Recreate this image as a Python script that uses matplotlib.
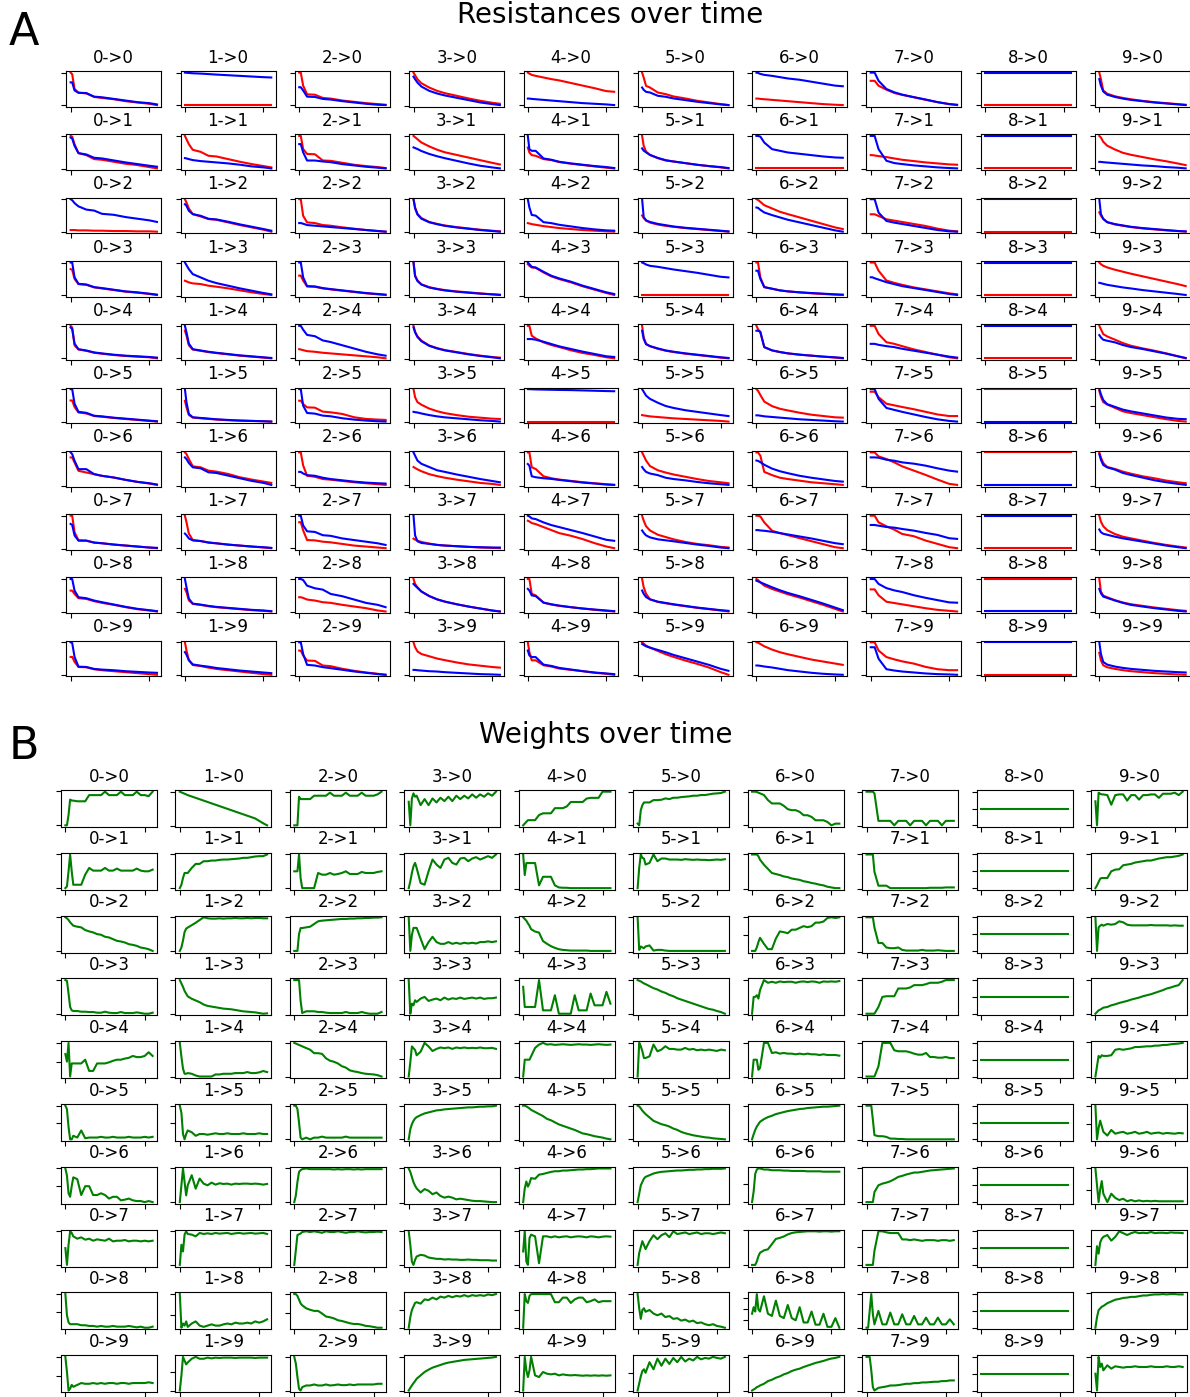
import matplotlib.pyplot as plt

# --- sample points along time ---
t_res = [0, 2, 5, 10, 20, 30, 40, 55, 70, 85, 100, 110]
t_w = [0, 2, 4, 6, 8, 10, 15, 20, 25, 30, 35, 40, 45, 50, 55, 60, 65, 70, 75, 80, 85, 90, 95, 100, 105, 110]

# --- resistances: red_i[j] / blue_i[j] is connection i->j ---
red_0 = [
    [100, 95, 50, 38, 36, 25, 22, 18, 12, 8, 4, 0],
    [100, 98, 75, 48, 42, 30, 28, 22, 16, 12, 6, 2],
    [5, 5, 5, 4, 4, 3, 3, 2, 2, 1, 1, 0],
    [80, 78, 50, 34, 32, 24, 21, 16, 11, 8, 4, 1],
    [100, 95, 40, 27, 23, 17, 14, 10, 7, 5, 3, 0],
    [65, 65, 45, 28, 25, 17, 15, 11, 8, 5, 2, 0],
    [85, 85, 70, 45, 40, 35, 30, 25, 18, 12, 7, 3],
    [100, 100, 50, 25, 24, 18, 16, 12, 9, 6, 3, 1],
    [65, 65, 55, 42, 40, 33, 28, 22, 15, 9, 5, 2],
    [55, 55, 40, 24, 23, 17, 14, 11, 8, 5, 2, 0],
]
blue_0 = [
    [70, 70, 45, 38, 37, 26, 24, 19, 14, 9, 6, 2],
    [95, 92, 70, 48, 44, 34, 32, 26, 20, 15, 10, 7],
    [100, 97, 88, 78, 68, 65, 55, 52, 45, 40, 35, 30],
    [100, 100, 55, 35, 33, 25, 22, 17, 12, 9, 5, 2],
    [95, 90, 45, 28, 24, 18, 15, 11, 8, 6, 4, 2],
    [100, 100, 55, 30, 27, 18, 16, 12, 9, 6, 3, 1],
    [100, 95, 75, 50, 50, 35, 30, 25, 18, 12, 8, 4],
    [75, 72, 40, 24, 24, 18, 16, 12, 9, 6, 3, 2],
    [100, 100, 65, 45, 42, 35, 30, 23, 16, 10, 6, 3],
    [100, 98, 55, 25, 24, 18, 16, 14, 11, 9, 7, 6],
]
red_1 = [
    [0, 0, 0, 0, 0, 0, 0, 0, 0, 0, 0, 0],
    [100, 90, 75, 58, 52, 40, 38, 30, 22, 15, 9, 5],
    [100, 90, 72, 55, 48, 40, 38, 30, 22, 15, 8, 2],
    [45, 43, 40, 37, 35, 30, 27, 22, 16, 10, 5, 2],
    [85, 70, 40, 27, 23, 19, 16, 12, 8, 5, 2, 0],
    [65, 45, 22, 14, 12, 10, 8, 6, 5, 4, 3, 2],
    [100, 95, 80, 58, 55, 45, 42, 35, 25, 18, 12, 8],
    [100, 80, 45, 25, 22, 18, 15, 11, 8, 5, 2, 0],
    [70, 60, 35, 24, 21, 17, 14, 11, 8, 5, 3, 1],
    [100, 75, 45, 30, 27, 22, 18, 14, 10, 6, 2, 0],
]
blue_1 = [
    [100, 99.5, 99, 98, 97, 95.5, 94, 92, 90, 88, 86, 85],
    [33, 32, 30, 27, 24, 22, 20, 17, 13, 8, 5, 2],
    [85, 80, 65, 55, 50, 41, 39, 32, 24, 17, 10, 5],
    [100, 92, 80, 65, 55, 45, 38, 30, 22, 15, 8, 4],
    [100, 80, 45, 28, 24, 20, 17, 13, 9, 6, 3, 1],
    [100, 60, 25, 15, 13, 11, 9, 7, 5, 4, 3, 2],
    [85, 80, 68, 55, 52, 40, 38, 30, 22, 14, 8, 2],
    [45, 40, 30, 24, 22, 17, 15, 11, 8, 5, 3, 1],
    [100, 75, 40, 25, 22, 18, 15, 12, 9, 6, 4, 2],
    [70, 62, 45, 32, 28, 25, 21, 17, 13, 10, 7, 5],
]
red_2 = [
    [100, 100, 60, 33, 32, 22, 20, 14, 10, 6, 3, 1],
    [100, 100, 60, 45, 44, 25, 24, 18, 12, 8, 5, 2],
    [100, 100, 50, 30, 28, 22, 20, 15, 11, 7, 4, 2],
    [60, 60, 45, 27, 26, 21, 18, 14, 10, 6, 3, 1],
    [28, 27, 25, 22, 20, 17, 15, 12, 9, 6, 3, 0],
    [65, 65, 55, 45, 44, 32, 30, 25, 15, 10, 8, 7],
    [100, 100, 60, 28, 25, 18, 16, 12, 8, 5, 2, 0],
    [80, 80, 55, 25, 24, 20, 18, 13, 8, 5, 2, 0],
    [45, 45, 43, 38, 35, 30, 28, 22, 17, 12, 5, 2],
    [75, 75, 60, 45, 44, 30, 28, 20, 14, 9, 5, 2],
]
blue_2 = [
    [55, 55, 45, 26, 25, 19, 17, 12, 8, 4, 1, 0],
    [75, 75, 50, 25, 25, 22, 20, 14, 10, 6, 3, 1],
    [28, 28, 26, 22, 20, 18, 16, 13, 10, 7, 4, 2],
    [100, 100, 55, 28, 27, 22, 19, 15, 11, 7, 4, 2],
    [100, 100, 88, 72, 68, 55, 50, 40, 30, 20, 12, 8],
    [100, 100, 50, 28, 26, 20, 18, 12, 8, 5, 3, 2],
    [40, 40, 35, 30, 28, 22, 18, 14, 10, 7, 5, 4],
    [100, 100, 70, 52, 50, 40, 38, 30, 25, 20, 15, 10],
    [100, 100, 97, 80, 72, 68, 55, 48, 38, 28, 22, 15],
    [100, 100, 65, 32, 30, 25, 22, 17, 12, 8, 4, 2],
]
red_3 = [
    [100, 92, 80, 68, 55, 45, 38, 30, 22, 15, 9, 6],
    [100, 96, 90, 80, 68, 58, 50, 42, 34, 26, 18, 13],
    [100, 75, 55, 42, 30, 24, 19, 14, 10, 6, 3, 1],
    [100, 60, 45, 33, 24, 19, 15, 11, 8, 5, 2, 1],
    [100, 82, 68, 55, 40, 32, 26, 20, 14, 9, 5, 3],
    [100, 75, 60, 52, 40, 32, 26, 20, 15, 12, 9, 8],
    [55, 52, 48, 42, 33, 27, 22, 16, 11, 6, 3, 0],
    [30, 27, 24, 20, 15, 11, 9, 7, 5, 3, 2, 1],
    [100, 85, 75, 62, 48, 38, 31, 23, 16, 10, 4, 1],
    [100, 85, 72, 64, 57, 50, 45, 38, 32, 28, 24, 22],
]
blue_3 = [
    [88, 80, 70, 58, 45, 37, 31, 24, 17, 10, 5, 2],
    [65, 63, 60, 54, 45, 38, 32, 24, 16, 9, 4, 1],
    [100, 72, 53, 40, 29, 23, 18, 13, 9, 5, 2, 0],
    [100, 58, 43, 32, 23, 18, 14, 10, 7, 4, 2, 0],
    [95, 80, 66, 53, 39, 31, 25, 19, 13, 8, 4, 1],
    [30, 29, 28, 25, 20, 16, 13, 10, 7, 4, 2, 0],
    [100, 90, 75, 65, 55, 45, 40, 32, 25, 18, 12, 8],
    [100, 40, 22, 17, 14, 11, 9, 7, 5, 4, 3, 3],
    [85, 80, 73, 62, 48, 38, 31, 23, 16, 10, 4, 1],
    [15, 15, 14, 13, 11, 10, 8, 6, 4, 2, 1, 0],
]
red_4 = [
    [100, 97, 93, 90, 85, 80, 76, 68, 60, 52, 43, 41],
    [65, 50, 42, 40, 30, 27, 21, 16, 12, 8, 4, 2],
    [27, 26, 24, 22, 18, 15, 12, 9, 6, 4, 2, 1],
    [95, 90, 85, 84, 70, 58, 50, 40, 28, 18, 8, 2],
    [100, 100, 70, 62, 50, 42, 36, 26, 18, 12, 5, 2],
    [0, 0, 0, 0, 0, 0, 0, 0, 0, 0, 0, 0],
    [100, 100, 55, 50, 28, 22, 18, 14, 10, 7, 4, 2],
    [85, 83, 78, 75, 66, 57, 48, 40, 30, 18, 8, 3],
    [100, 100, 55, 50, 28, 22, 18, 14, 10, 6, 3, 1],
    [100, 70, 45, 45, 30, 26, 20, 16, 12, 7, 4, 1],
]
blue_4 = [
    [20, 20, 19, 18, 16, 14, 12, 9, 6, 4, 2, 0],
    [100, 60, 55, 55, 32, 28, 22, 17, 13, 9, 6, 3],
    [100, 75, 52, 50, 30, 27, 22, 17, 12, 8, 5, 4],
    [100, 95, 87, 85, 72, 60, 52, 42, 30, 20, 10, 5],
    [60, 60, 60, 58, 52, 45, 38, 30, 22, 15, 8, 6],
    [100, 99.8, 99.5, 99, 98.5, 98, 97.5, 97, 96, 95, 94, 93.5],
    [65, 60, 28, 25, 22, 20, 17, 13, 9, 6, 3, 2],
    [100, 98, 92, 90, 80, 72, 66, 57, 48, 38, 28, 25],
    [70, 65, 50, 48, 28, 23, 19, 14, 10, 7, 4, 2],
    [75, 60, 55, 55, 32, 28, 22, 17, 12, 8, 5, 3],
]
red_5 = [
    [100, 85, 60, 55, 40, 35, 28, 22, 15, 10, 5, 2],
    [100, 70, 52, 42, 32, 25, 22, 17, 12, 8, 4, 1],
    [50, 42, 34, 28, 22, 18, 15, 11, 8, 5, 2, 0],
    [2, 2, 2, 2, 2, 2, 2, 2, 2, 2, 2, 2],
    [100, 65, 45, 38, 30, 24, 20, 15, 11, 7, 3, 1],
    [20, 19, 18, 16, 14, 12, 10, 8, 6, 4, 2, 0],
    [100, 90, 75, 58, 45, 38, 32, 25, 18, 12, 8, 5],
    [100, 85, 68, 55, 42, 35, 28, 20, 14, 10, 5, 3],
    [100, 75, 55, 38, 30, 26, 22, 17, 12, 8, 4, 1],
    [100, 96, 90, 84, 74, 64, 56, 45, 35, 24, 10, 2],
]
blue_5 = [
    [55, 48, 42, 40, 30, 27, 22, 17, 12, 8, 4, 2],
    [62, 55, 50, 42, 33, 26, 22, 17, 12, 8, 5, 2],
    [100, 45, 35, 30, 24, 20, 16, 12, 9, 6, 3, 1],
    [100, 98, 94, 90, 87, 83, 79, 74, 69, 63, 57, 55],
    [85, 60, 44, 38, 31, 25, 21, 16, 12, 8, 4, 2],
    [100, 92, 80, 70, 58, 48, 42, 35, 30, 25, 20, 17],
    [55, 48, 40, 35, 30, 22, 18, 14, 9, 5, 2, 0],
    [55, 48, 40, 34, 28, 25, 22, 17, 12, 8, 3, 1],
    [65, 55, 45, 38, 31, 27, 23, 18, 13, 9, 5, 3],
    [95, 92, 88, 84, 77, 70, 62, 52, 42, 32, 20, 14],
]
red_6 = [
    [20, 20, 19, 18, 16, 14, 12, 9, 6, 3, 1, 0],
    [2, 2, 2, 2, 2, 2, 2, 2, 2, 2, 2, 2],
    [100, 98, 92, 82, 72, 62, 55, 45, 35, 25, 15, 10],
    [100, 100, 55, 25, 20, 15, 12, 9, 6, 4, 2, 1],
    [100, 90, 80, 35, 25, 20, 16, 12, 9, 6, 3, 1],
    [100, 95, 82, 62, 48, 40, 35, 28, 22, 18, 14, 13],
    [100, 100, 90, 40, 30, 22, 18, 13, 8, 5, 2, 0],
    [100, 100, 98, 80, 55, 48, 42, 33, 24, 15, 6, 3],
    [100, 97, 90, 80, 70, 62, 54, 44, 33, 22, 10, 2],
    [100, 99, 95, 88, 78, 70, 64, 56, 48, 42, 36, 32],
]
blue_6 = [
    [100, 99, 96, 93, 90, 86, 82, 78, 72, 66, 60, 58],
    [100, 100, 98, 80, 60, 55, 50, 46, 42, 38, 35, 34],
    [75, 74, 68, 60, 52, 45, 38, 30, 22, 14, 6, 2],
    [75, 75, 50, 25, 20, 15, 12, 9, 7, 5, 3, 2],
    [85, 85, 82, 35, 25, 20, 16, 12, 9, 6, 4, 2],
    [20, 20, 19, 17, 15, 13, 11, 8, 6, 4, 2, 1],
    [75, 74, 70, 62, 50, 42, 36, 28, 22, 17, 12, 10],
    [57, 57, 56, 55, 52, 48, 44, 38, 32, 25, 18, 15],
    [95, 93, 90, 85, 75, 66, 58, 48, 37, 26, 14, 6],
    [30, 30, 29, 27, 24, 20, 16, 12, 8, 5, 3, 2],
]
red_7 = [
    [75, 75, 75, 60, 48, 38, 32, 25, 17, 10, 4, 1],
    [42, 42, 41, 39, 36, 32, 28, 24, 20, 17, 14, 13],
    [55, 55, 55, 50, 40, 36, 32, 26, 20, 12, 6, 4],
    [100, 100, 100, 75, 45, 38, 32, 24, 18, 12, 6, 3],
    [100, 100, 100, 75, 50, 45, 38, 28, 20, 12, 4, 1],
    [92, 92, 92, 75, 55, 50, 45, 38, 30, 22, 17, 17],
    [100, 100, 100, 88, 80, 70, 58, 45, 32, 18, 5, 2],
    [100, 100, 100, 80, 68, 58, 45, 38, 25, 15, 5, 2],
    [68, 68, 68, 50, 30, 26, 22, 16, 10, 5, 2, 0],
    [100, 100, 100, 75, 55, 48, 42, 35, 25, 18, 15, 15],
]
blue_7 = [
    [100, 100, 100, 75, 50, 40, 33, 25, 18, 10, 4, 2],
    [100, 100, 100, 60, 25, 18, 15, 11, 8, 5, 3, 2],
    [100, 100, 100, 60, 35, 30, 26, 20, 14, 8, 4, 3],
    [55, 55, 52, 48, 40, 34, 28, 22, 16, 10, 4, 1],
    [45, 45, 45, 42, 38, 35, 30, 24, 18, 12, 6, 3],
    [100, 100, 100, 70, 42, 36, 30, 22, 14, 7, 2, 0],
    [85, 85, 85, 84, 78, 75, 70, 66, 60, 52, 45, 42],
    [72, 72, 72, 70, 66, 64, 60, 55, 48, 42, 32, 30],
    [100, 100, 100, 85, 72, 65, 60, 50, 42, 35, 28, 27],
    [85, 85, 85, 50, 18, 14, 11, 8, 5, 3, 2, 1],
]
# 8->j stays flat: level of each line per target
red_8_level = [0, 0, 0, 0, 0, 100, 100, 0, 100, 0]
blue_8_level = [100, 100, 100, 100, 100, 0, 0, 100, 0, 100]
red_8 = [[v] * len(t_res) for v in red_8_level]
blue_8 = [[v] * len(t_res) for v in blue_8_level]
red_9 = [
    [100, 80, 45, 35, 27, 22, 18, 13, 9, 6, 3, 1],
    [100, 95, 82, 70, 58, 48, 42, 35, 28, 22, 15, 10],
    [60, 50, 40, 30, 23, 19, 15, 11, 8, 5, 3, 1],
    [100, 95, 90, 85, 78, 72, 66, 58, 50, 42, 34, 28],
    [100, 90, 75, 68, 58, 48, 40, 32, 25, 17, 8, 2],
    [95, 78, 62, 55, 45, 35, 30, 24, 18, 12, 7, 5],
    [100, 85, 68, 56, 50, 42, 36, 28, 22, 15, 10, 7],
    [100, 82, 68, 56, 44, 36, 31, 24, 17, 11, 6, 3],
    [100, 62, 50, 45, 36, 29, 24, 19, 14, 10, 6, 4],
    [68, 45, 30, 24, 19, 15, 12, 9, 6, 4, 2, 1],
]
blue_9 = [
    [80, 60, 42, 32, 25, 20, 16, 12, 8, 5, 2, 0],
    [20, 20, 19, 18, 16, 14, 12, 9, 7, 4, 2, 0],
    [100, 55, 40, 30, 24, 20, 16, 12, 9, 6, 3, 2],
    [38, 37, 35, 32, 28, 24, 21, 16, 12, 8, 4, 1],
    [72, 65, 58, 55, 50, 42, 36, 30, 23, 16, 8, 3],
    [100, 85, 68, 56, 48, 40, 35, 29, 23, 17, 13, 12],
    [95, 78, 62, 55, 48, 38, 32, 24, 16, 10, 5, 2],
    [58, 50, 45, 42, 36, 31, 27, 21, 15, 9, 4, 1],
    [70, 57, 47, 43, 35, 28, 22, 17, 12, 8, 4, 2],
    [100, 65, 40, 32, 26, 22, 19, 16, 13, 11, 9, 8],
]

# --- weights: w_i[j] is connection i->j ---
w_0 = [
    [0, 0, 30, 75, 72, 72, 70, 70, 70, 88, 88, 88, 88, 98, 88, 88, 88, 98, 88, 88, 88, 98, 88, 88, 85, 98],
    [0, 5, 50, 100, 50, 10, 10, 10, 40, 60, 52, 52, 52, 60, 52, 52, 58, 52, 52, 52, 52, 58, 52, 50, 50, 55],
    [100, 97, 92, 85, 80, 75, 72, 70, 62, 58, 55, 50, 48, 42, 40, 35, 30, 28, 25, 20, 18, 15, 10, 8, 5, 0],
    [100, 98, 60, 20, 10, 8, 8, 6, 6, 5, 5, 3, 3, 6, 3, 2, 2, 5, 2, 2, 2, 4, 2, 0, 0, 3],
    [70, 50, 100, 10, 45, 45, 45, 45, 55, 25, 25, 45, 45, 45, 48, 52, 55, 55, 58, 60, 65, 62, 62, 65, 75, 65],
    [100, 90, 40, 5, 5, 15, 10, 30, 8, 10, 10, 10, 12, 10, 10, 12, 10, 10, 10, 12, 10, 10, 10, 12, 10, 12],
    [100, 80, 30, 20, 50, 75, 70, 25, 50, 50, 25, 25, 30, 25, 15, 20, 20, 10, 12, 15, 10, 8, 8, 5, 8, 5],
    [50, 0, 60, 100, 95, 85, 78, 82, 75, 78, 72, 76, 74, 72, 78, 70, 72, 72, 74, 70, 72, 72, 70, 72, 70, 72],
    [100, 40, 20, 15, 15, 15, 15, 12, 12, 10, 10, 8, 10, 8, 8, 10, 8, 8, 8, 10, 8, 6, 8, 5, 5, 8],
    [100, 60, 10, 15, 25, 20, 25, 30, 28, 28, 30, 28, 30, 28, 30, 30, 28, 30, 30, 28, 30, 30, 30, 30, 32, 30],
]
w_1 = [
    [100, 98, 96, 94, 92, 90, 86, 82, 78, 74, 70, 66, 62, 58, 54, 50, 46, 42, 38, 34, 30, 26, 22, 15, 8, 2],
    [0, 10, 30, 45, 45, 45, 60, 72, 72, 80, 80, 82, 82, 84, 85, 85, 86, 87, 88, 90, 90, 92, 94, 95, 95, 100],
    [0, 10, 30, 55, 65, 68, 75, 82, 90, 98, 95, 94, 94, 95, 94, 95, 95, 96, 95, 95, 96, 95, 96, 96, 95, 95],
    [100, 90, 80, 68, 60, 52, 45, 40, 35, 28, 24, 22, 20, 18, 16, 15, 14, 12, 10, 8, 7, 6, 5, 3, 1, 2],
    [100, 60, 25, 10, 10, 12, 10, 5, 2, 2, 2, 2, 8, 8, 10, 10, 10, 12, 12, 12, 15, 12, 12, 14, 18, 15],
    [100, 80, 20, 5, 20, 30, 25, 15, 20, 20, 18, 20, 22, 20, 20, 22, 20, 20, 20, 22, 20, 20, 20, 22, 20, 20],
    [0, 50, 100, 60, 20, 50, 80, 40, 70, 55, 50, 58, 52, 56, 54, 55, 52, 55, 54, 55, 55, 54, 55, 54, 52, 54],
    [0, 60, 40, 90, 100, 92, 90, 85, 95, 92, 94, 92, 95, 93, 94, 95, 92, 94, 95, 93, 94, 95, 93, 94, 95, 92],
    [100, 20, 30, 25, 35, 22, 30, 35, 25, 22, 25, 28, 25, 25, 28, 30, 28, 32, 30, 30, 32, 30, 35, 32, 35, 40],
    [0, 40, 90, 80, 70, 75, 85, 90, 85, 85, 88, 86, 88, 87, 88, 88, 88, 87, 88, 88, 88, 88, 87, 88, 88, 88],
]
w_2 = [
    [0, 0, 0, 85, 78, 78, 78, 78, 88, 88, 88, 88, 97, 88, 88, 88, 97, 88, 88, 88, 97, 88, 88, 88, 92, 100],
    [50, 50, 50, 100, 30, 0, 0, 0, 0, 45, 40, 40, 45, 40, 42, 45, 50, 42, 42, 42, 48, 45, 45, 45, 48, 50],
    [0, 0, 0, 50, 68, 68, 70, 72, 80, 88, 90, 91, 92, 93, 94, 95, 95, 96, 96, 97, 97, 98, 98, 99, 99, 100],
    [100, 100, 100, 100, 40, 5, 10, 10, 10, 8, 8, 6, 5, 5, 5, 5, 8, 5, 5, 5, 8, 5, 3, 3, 3, 8],
    [100, 98, 96, 94, 92, 90, 85, 80, 70, 70, 68, 55, 48, 45, 40, 32, 28, 20, 17, 15, 12, 10, 9, 8, 6, 2],
    [100, 100, 90, 50, 5, 0, 5, 0, 5, 5, 8, 5, 5, 5, 5, 5, 8, 5, 5, 5, 5, 5, 5, 5, 5, 5],
    [0, 20, 60, 90, 95, 98, 100, 98, 98, 98, 98, 98, 98, 97, 98, 97, 98, 98, 97, 98, 97, 98, 98, 98, 98, 98],
    [0, 40, 80, 82, 84, 88, 90, 88, 90, 88, 86, 90, 88, 88, 90, 88, 86, 88, 88, 90, 88, 87, 88, 88, 89, 88],
    [100, 100, 95, 85, 75, 70, 62, 58, 55, 55, 48, 40, 38, 35, 30, 28, 25, 22, 20, 20, 18, 15, 14, 12, 10, 10],
    [100, 80, 40, 5, 0, 10, 15, 15, 18, 15, 15, 18, 15, 16, 18, 16, 16, 18, 16, 18, 18, 18, 18, 18, 20, 20],
]
w_3 = [
    [70, 0, 80, 95, 85, 88, 60, 78, 60, 80, 68, 82, 72, 85, 72, 88, 78, 88, 80, 92, 82, 92, 85, 95, 88, 100],
    [0, 20, 45, 65, 75, 60, 15, 10, 50, 85, 70, 60, 85, 90, 75, 70, 88, 90, 80, 88, 92, 85, 90, 95, 90, 100],
    [100, 5, 50, 70, 70, 70, 40, 10, 30, 45, 30, 25, 25, 30, 25, 28, 25, 28, 26, 28, 26, 30, 30, 32, 30, 32],
    [100, 0, 30, 25, 40, 35, 45, 50, 38, 42, 45, 40, 48, 42, 46, 44, 48, 44, 46, 48, 45, 48, 44, 46, 46, 48],
    [0, 40, 85, 80, 75, 60, 70, 95, 85, 72, 78, 82, 80, 82, 78, 82, 80, 82, 80, 81, 80, 82, 80, 80, 81, 78],
    [0, 30, 45, 55, 62, 66, 72, 77, 80, 83, 86, 87, 89, 90, 91, 92, 93, 94, 95, 95, 96, 97, 97, 98, 98, 100],
    [100, 90, 75, 60, 50, 42, 30, 40, 35, 25, 30, 20, 15, 18, 15, 10, 12, 10, 8, 6, 5, 5, 4, 3, 2, 2],
    [100, 60, 10, 0, 15, 25, 30, 28, 22, 20, 18, 18, 16, 17, 16, 16, 15, 15, 16, 15, 15, 14, 14, 14, 13, 13],
    [0, 30, 50, 60, 70, 72, 68, 80, 78, 85, 80, 88, 85, 90, 86, 90, 88, 92, 88, 92, 90, 92, 90, 94, 92, 95],
    [0, 8, 15, 22, 28, 35, 45, 55, 62, 68, 72, 76, 80, 83, 85, 87, 89, 91, 92, 93, 94, 95, 96, 97, 98, 100],
]
w_4 = [
    [0, 5, 10, 15, 15, 15, 15, 30, 35, 35, 35, 50, 50, 50, 55, 68, 68, 68, 68, 78, 80, 80, 80, 98, 98, 98],
    [100, 40, 75, 75, 75, 75, 75, 10, 35, 35, 35, 10, 4, 3, 3, 2, 2, 2, 2, 2, 2, 2, 2, 2, 2, 2],
    [100, 95, 90, 82, 75, 65, 58, 55, 30, 22, 15, 10, 6, 4, 3, 2, 2, 2, 2, 2, 1, 1, 1, 1, 1, 1],
    [80, 20, 20, 20, 20, 20, 20, 100, 10, 10, 10, 55, 0, 0, 0, 0, 55, 10, 10, 10, 60, 25, 25, 25, 65, 30],
    [0, 50, 50, 50, 50, 60, 85, 95, 100, 95, 96, 94, 95, 96, 95, 94, 95, 96, 95, 95, 94, 95, 96, 95, 94, 95],
    [100, 100, 98, 95, 92, 88, 82, 76, 70, 62, 58, 52, 46, 42, 38, 34, 30, 25, 20, 18, 15, 12, 10, 8, 5, 3],
    [0, 40, 60, 45, 55, 70, 68, 80, 82, 85, 88, 90, 90, 92, 92, 93, 94, 95, 95, 96, 96, 97, 98, 98, 98, 98],
    [40, 100, 10, 0, 80, 90, 85, 5, 85, 85, 82, 85, 82, 84, 85, 82, 84, 85, 84, 82, 85, 84, 82, 84, 85, 84],
    [0, 95, 75, 70, 90, 95, 95, 95, 95, 95, 95, 72, 72, 85, 85, 70, 80, 85, 85, 72, 75, 80, 72, 75, 75, 75],
    [0, 100, 60, 40, 60, 100, 45, 40, 55, 50, 48, 50, 45, 48, 46, 45, 46, 45, 44, 45, 44, 45, 44, 45, 44, 45],
]
w_5 = [
    [5, 0, 45, 60, 68, 68, 68, 75, 75, 76, 80, 78, 82, 82, 84, 85, 86, 88, 88, 90, 90, 92, 94, 95, 96, 100],
    [0, 60, 100, 90, 88, 70, 75, 100, 80, 88, 88, 85, 85, 85, 84, 86, 85, 84, 85, 84, 84, 83, 84, 85, 84, 86],
    [100, 5, 15, 12, 10, 15, 18, 3, 5, 5, 3, 2, 2, 2, 2, 2, 2, 2, 2, 2, 2, 2, 2, 2, 2, 2],
    [100, 98, 96, 93, 90, 88, 82, 76, 72, 66, 62, 56, 52, 46, 42, 38, 34, 30, 26, 22, 18, 14, 12, 8, 5, 0],
    [0, 100, 90, 75, 55, 55, 60, 95, 75, 80, 90, 82, 82, 80, 80, 85, 80, 82, 78, 80, 78, 80, 78, 76, 80, 78],
    [100, 98, 92, 85, 80, 75, 65, 55, 50, 45, 42, 38, 32, 28, 22, 18, 15, 12, 10, 8, 6, 5, 3, 2, 1, 0],
    [0, 25, 50, 60, 70, 75, 80, 85, 88, 90, 91, 92, 93, 94, 94, 95, 96, 96, 97, 97, 98, 98, 99, 99, 99, 100],
    [0, 30, 45, 60, 50, 40, 60, 75, 65, 75, 80, 70, 85, 78, 80, 82, 78, 80, 82, 78, 80, 80, 78, 80, 82, 80],
    [100, 60, 30, 55, 60, 50, 55, 45, 40, 45, 35, 38, 30, 32, 25, 28, 22, 25, 18, 20, 15, 12, 15, 10, 8, 5],
    [0, 20, 40, 55, 60, 50, 80, 60, 90, 70, 90, 75, 92, 80, 95, 82, 90, 85, 95, 88, 92, 90, 95, 92, 90, 95],
]
w_6 = [
    [100, 100, 100, 99, 97, 95, 90, 75, 65, 65, 65, 58, 48, 45, 45, 40, 30, 30, 25, 15, 15, 15, 10, 0, 5, 5],
    [100, 100, 100, 100, 95, 85, 70, 58, 46, 43, 40, 36, 34, 30, 28, 26, 22, 20, 17, 15, 12, 10, 6, 4, 2, 2],
    [5, 5, 5, 15, 30, 42, 25, 10, 10, 40, 60, 58, 55, 65, 65, 70, 75, 72, 75, 85, 85, 88, 98, 100, 98, 100],
    [0, 50, 50, 55, 45, 70, 100, 92, 95, 92, 96, 94, 95, 95, 92, 95, 96, 94, 96, 95, 92, 96, 95, 96, 95, 97],
    [0, 50, 50, 50, 20, 25, 100, 100, 70, 72, 68, 70, 68, 68, 66, 68, 66, 68, 66, 66, 64, 66, 64, 64, 64, 62],
    [0, 15, 28, 38, 45, 52, 60, 66, 70, 75, 78, 81, 84, 86, 88, 90, 91, 93, 94, 95, 96, 97, 97, 98, 99, 100],
    [0, 30, 80, 92, 95, 95, 92, 92, 90, 90, 90, 89, 89, 88, 88, 88, 88, 87, 87, 87, 87, 86, 86, 86, 86, 86],
    [0, 0, 0, 10, 25, 35, 42, 45, 60, 75, 78, 82, 88, 92, 94, 95, 96, 97, 97, 97, 96, 97, 97, 96, 97, 97],
    [40, 55, 45, 85, 50, 45, 80, 40, 35, 70, 35, 30, 60, 30, 25, 55, 20, 20, 45, 15, 15, 40, 10, 10, 30, 8],
    [0, 3, 6, 10, 12, 15, 20, 28, 32, 38, 42, 48, 52, 58, 62, 65, 70, 74, 78, 82, 85, 88, 92, 95, 97, 100],
]
w_7 = [
    [100, 100, 100, 100, 100, 95, 15, 15, 15, 15, 2, 15, 15, 15, 2, 15, 15, 15, 2, 15, 15, 15, 2, 15, 15, 15],
    [100, 100, 100, 100, 100, 50, 10, 10, 10, 3, 3, 3, 3, 3, 3, 3, 3, 3, 3, 4, 4, 4, 4, 5, 5, 5],
    [100, 100, 100, 100, 100, 70, 25, 25, 12, 10, 10, 12, 5, 3, 3, 3, 3, 5, 3, 3, 3, 4, 3, 2, 2, 2],
    [0, 0, 0, 0, 0, 0, 20, 50, 52, 52, 52, 75, 75, 75, 78, 85, 85, 85, 88, 92, 92, 92, 95, 100, 100, 100],
    [0, 0, 0, 0, 0, 0, 30, 100, 100, 100, 78, 75, 75, 75, 72, 68, 65, 65, 70, 58, 58, 56, 56, 58, 55, 55],
    [100, 100, 100, 100, 60, 15, 12, 12, 10, 5, 5, 4, 4, 3, 3, 3, 3, 3, 3, 3, 3, 3, 3, 3, 3, 3],
    [0, 0, 0, 0, 0, 30, 50, 55, 58, 62, 68, 75, 78, 82, 85, 88, 88, 90, 92, 94, 95, 96, 97, 98, 99, 100],
    [0, 0, 0, 0, 0, 40, 95, 95, 92, 90, 90, 90, 72, 72, 70, 72, 70, 68, 70, 70, 70, 68, 70, 70, 68, 70],
    [0, 0, 50, 100, 40, 10, 50, 10, 10, 45, 10, 10, 40, 10, 10, 35, 10, 10, 30, 10, 10, 30, 10, 10, 25, 10],
    [100, 100, 100, 60, 10, 0, 8, 10, 12, 15, 15, 16, 18, 20, 20, 22, 22, 24, 24, 25, 26, 26, 28, 28, 30, 30],
]
# 8->j weights never move
w_8_level = [50, 50, 50, 50, 50, 50, 50, 50, 50, 50]
w_8 = [[v] * len(t_w) for v in w_8_level]
w_9 = [
    [70, 0, 95, 92, 90, 90, 88, 60, 88, 90, 90, 72, 88, 88, 75, 88, 88, 90, 90, 80, 92, 92, 92, 95, 88, 98],
    [0, 8, 18, 28, 30, 30, 30, 50, 55, 56, 68, 70, 72, 76, 78, 80, 82, 82, 85, 88, 90, 92, 92, 94, 96, 100],
    [100, 0, 70, 75, 78, 75, 80, 78, 80, 88, 85, 78, 76, 76, 76, 76, 76, 77, 76, 76, 76, 76, 75, 76, 75, 75],
    [0, 5, 10, 12, 15, 18, 20, 25, 28, 32, 35, 38, 42, 45, 48, 52, 55, 58, 62, 66, 70, 75, 78, 82, 85, 100],
    [0, 30, 60, 55, 62, 60, 60, 62, 78, 80, 78, 80, 82, 86, 86, 87, 88, 88, 90, 90, 92, 92, 94, 95, 96, 98],
    [100, 10, 40, 60, 45, 30, 20, 35, 25, 28, 30, 25, 27, 30, 25, 27, 30, 25, 27, 28, 25, 27, 26, 25, 27, 26],
    [100, 60, 20, 50, 70, 40, 20, 40, 30, 25, 28, 22, 25, 22, 24, 22, 23, 22, 23, 22, 22, 22, 22, 22, 22, 22],
    [0, 50, 30, 60, 70, 75, 80, 65, 75, 90, 85, 80, 85, 88, 85, 86, 85, 88, 85, 86, 86, 85, 87, 86, 86, 85],
    [0, 30, 50, 55, 60, 62, 70, 75, 80, 82, 85, 86, 88, 88, 90, 92, 92, 94, 95, 95, 96, 95, 96, 96, 95, 95],
    [50, 0, 100, 70, 80, 60, 75, 65, 72, 70, 68, 70, 70, 72, 70, 70, 70, 72, 70, 70, 70, 72, 70, 70, 72, 70],
]

red = [red_0, red_1, red_2, red_3, red_4, red_5, red_6, red_7, red_8, red_9]
blue = [blue_0, blue_1, blue_2, blue_3, blue_4, blue_5, blue_6, blue_7, blue_8, blue_9]
weights = [w_0, w_1, w_2, w_3, w_4, w_5, w_6, w_7, w_8, w_9]

W, H = 1190, 1397
fig = plt.figure(figsize=(W / 100, H / 100), dpi=100)


def cell(left0, top0, dx, dy, aw, ah, i, j):
    # pixel box -> figure fraction
    return fig.add_axes([(left0 + i * dx) / W, 1 - (top0 + j * dy + ah) / H, aw / W, ah / H])


# --- A: resistances ---
for i in range(10):
    for j in range(10):
        ax = cell(66.3, 71, 114.3, 63.3, 95, 35.7, i, j)
        ax.plot(t_res, red[i][j], color='red')
        ax.plot(t_res, blue[i][j], color='blue')
        ax.set_title(f"{i}->{j}")
        ax.tick_params(labelbottom=False, labelleft=False)

# --- B: weights ---
for i in range(10):
    for j in range(10):
        ax = cell(61, 790, 114.45, 62.8, 96, 37, i, j)
        ax.plot(t_w, weights[i][j], color='green')
        ax.set_title(f"{i}->{j}")
        ax.tick_params(labelbottom=False, labelleft=False)

fig.text(610 / W, 1 - 23 / H, "Resistances over time", ha='center', va='baseline', fontsize=20)
fig.text(9 / W, 1 - 45 / H, "A", ha='left', va='baseline', fontsize=32)
fig.text(606 / W, 1 - 743 / H, "Weights over time", ha='center', va='baseline', fontsize=20)
fig.text(9 / W, 1 - 759 / H, "B", ha='left', va='baseline', fontsize=32)

fig.savefig("out.png", dpi=100)
